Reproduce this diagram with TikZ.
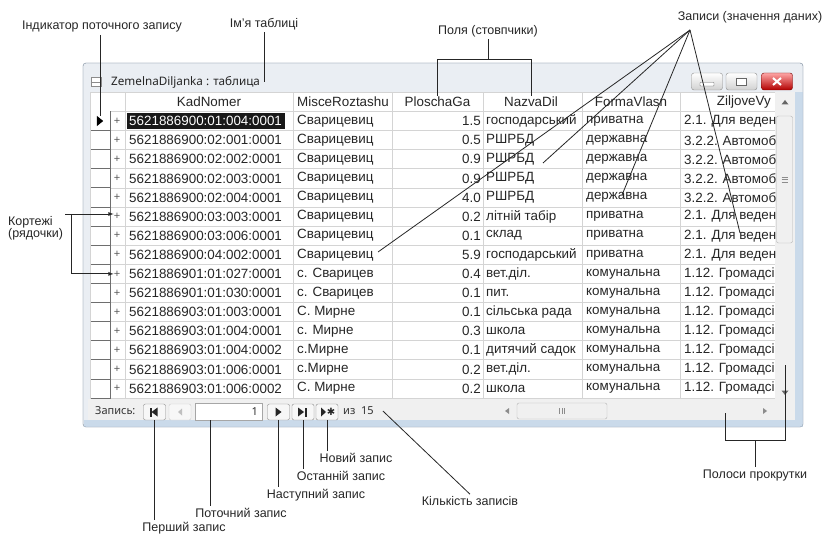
\documentclass[tikz,border=0pt]{standalone}
\usepackage{fontspec}
\setmainfont{Liberation Sans}
\newfontfamily\uifont{Noto Sans}
\newfontfamily\symfont{DejaVu Sans}
\definecolor{gridgray}{HTML}{D4D4D4}
\definecolor{selgray}{HTML}{6E6E6E}
\definecolor{winbg}{HTML}{EAEEF3}
\definecolor{winedge}{HTML}{9DA9B6}
\definecolor{glass}{HTML}{CADAEA}
\definecolor{barbg}{HTML}{F0F0F0}
\definecolor{inkgray}{HTML}{262626}
\tikzset{
	cell/.style={anchor=west, inner sep=1pt, font=\fontsize{13.4}{15}\selectfont, text=inkgray},
	numcell/.style={cell, anchor=east},
	headcell/.style={inner sep=1pt, font=\fontsize{13.4}{15}\selectfont, text=inkgray},
	plus/.style={inner sep=0pt, font=\fontsize{11}{11}\selectfont, text=black!65},
	gridline/.style={draw=gridgray, line width=0.7pt},
	selline/.style={draw=selgray, line width=0.8pt},
	note/.style={inner sep=2pt, font=\fontsize{12.5}{14}\selectfont, text=inkgray},
	noteline/.style={draw=black!85, line width=0.8pt},
	uitext/.style={inner sep=1pt, font=\uifont\fontsize{11}{13}\selectfont, text=black!80},
	navbtn/.style={draw=black!45, fill=black!3, rounded corners=2pt, minimum width=22pt, minimum height=16pt, inner sep=0pt},
	capbtn/.style={draw=black!45, top color=white, bottom color=black!18, rounded corners=2.5pt, minimum width=31pt, minimum height=17pt, inner sep=0pt},
	thumb/.style={draw=black!30, fill=black!6, rounded corners=2pt, inner sep=0pt}
}
\newcommand\datarow[7]{%
	\node[plus] (pl#1) at (117,{102+#1*19.1}) {+};
	\node[cell] (k#1) at (128,{102+#1*19.1}) {#2};
	\node[cell] (m#1) at (296,{102+#1*19.1}) {#3};
	\node[numcell] (p#1) at (482,{102+#1*19.1}) {#4};
	\node[cell] (n#1) at (485,{102+#1*19.1}) {#5};
	\node[cell] (f#1) at (585,{102+#1*19.1}) {#6};
	\node[cell] (z#1) at (683,{102+#1*19.1}) {#7};
}
\begin{document}
\begin{tikzpicture}[x=1pt, y=-1pt]
	\useasboundingbox (0,0) rectangle (827,534);
	\draw[winedge, fill=winbg, rounded corners=3pt] (83,63) rectangle (803,427);
	\fill[glass] (795,92) rectangle (802.5,426.5);
	\fill[glass] (83.5,420) rectangle (802.5,426.5);
	\draw[winedge, rounded corners=3pt] (83,63) rectangle (803,427);
	\node[draw=black!45, fill=white, minimum width=10pt, minimum height=9pt, inner sep=0pt] (ticon) at (96,82) {};
	\draw[black!45] (ticon.west) -- (ticon.east);
	\node[anchor=west, inner sep=1pt, font=\uifont\fontsize{11.7}{14}\selectfont, text=black!85] (title) at (110,82) {ZemelnaDiljanka : таблица};
	\node[capbtn] (minb) at (707,81.5) {};
	\node[capbtn] (maxb) at (741.5,81.5) {};
	\node[capbtn, draw=red!45!black, top color=red!35!white, bottom color=red!70!black] (closeb) at (777,81.5) {};
	\draw[black!60, fill=white, rounded corners=0.5pt] (minb.center) ++(-7,1) rectangle ++(14,3.5);
	\draw[black!60, fill=white] (maxb.center) ++(-5,-3.5) rectangle ++(10,7);
	\draw[white, line width=2pt] (closeb.center) ++(-4,-3.5) -- ++(8,7);
	\draw[white, line width=2pt] (closeb.center) ++(4,-3.5) -- ++(-8,7);
	\fill[white] (90,92.5) rectangle (775,398.5);
	\fill[barbg] (88,398.5) rectangle (795,420);
	\fill[barbg] (775,92.5) rectangle (795,398.5);
	\foreach \r in {0,...,15}
		\draw[gridline] (110,{111.5+\r*19.1}) -- (775,{111.5+\r*19.1});
	\draw[gridline] (90,92.5) -- (775,92.5);
	\foreach \c in {125,293,392,483,582,680}
		\draw[gridline] (\c,92.5) -- (\c,398.5);
	\foreach \r in {1,...,15}
		\draw[selline] (90,{111.5+\r*19.1}) -- (110,{111.5+\r*19.1});
	\draw[gridline] (90,92.5) -- (90,398.5);
	\draw[selline] (110,111.5) -- (110,398.5);
	\node[headcell] (hk) at (209,102) {KadNomer};
	\node[headcell, anchor=west] (hm) at (296,102) {MisceRoztashu};
	\node[headcell] (hp) at (437.5,102) {PloschaGa};
	\node[headcell] (hn) at (531,102) {NazvaDil};
	\node[headcell] (hf) at (631,102) {FormaVlasn};
	\node[headcell, anchor=east] (hz) at (772,102) {ZiljoveVy};
	\fill[black!90] (127,113) rectangle (285,129.5);
	\node[minimum width=6pt, minimum height=10pt, inner sep=0pt] (cur) at (100,121) {};
	\fill (cur.north west) -- (cur.east) -- (cur.south west) -- cycle;
	\begin{scope}
		\clip (90,92.5) rectangle (775,398.5);
		\datarow{1}{{\color{white}5621886900:01:004:0001}}{Сварицевиц}{1.5}{господарський}{приватна}{2.1. Для веден}
		\datarow{2}{5621886900:02:001:0001}{Сварицевиц}{0.5}{РШРБД}{державна}{3.2.2. Автомоб}
		\datarow{3}{5621886900:02:002:0001}{Сварицевиц}{0.9}{РШРБД}{державна}{3.2.2. Автомоб}
		\datarow{4}{5621886900:02:003:0001}{Сварицевиц}{0.9}{РШРБД}{державна}{3.2.2. Автомоб}
		\datarow{5}{5621886900:02:004:0001}{Сварицевиц}{4.0}{РШРБД}{державна}{3.2.2. Автомоб}
		\datarow{6}{5621886900:03:003:0001}{Сварицевиц}{0.2}{літній табір}{приватна}{2.1. Для веден}
		\datarow{7}{5621886900:03:006:0001}{Сварицевиц}{0.1}{склад}{приватна}{2.1. Для веден}
		\datarow{8}{5621886900:04:002:0001}{Сварицевиц}{5.9}{господарський}{приватна}{2.1. Для веден}
		\datarow{9}{5621886901:01:027:0001}{с. Сварицев}{0.4}{вет.діл.}{комунальна}{1.12. Громадсі}
		\datarow{10}{5621886901:01:030:0001}{с. Сварицев}{0.1}{пит.}{комунальна}{1.12. Громадсі}
		\datarow{11}{5621886903:01:003:0001}{С. Мирне}{0.1}{сільська рада}{комунальна}{1.12. Громадсі}
		\datarow{12}{5621886903:01:004:0001}{с. Мирне}{0.3}{школа}{комунальна}{1.12. Громадсі}
		\datarow{13}{5621886903:01:004:0002}{с.Мирне}{0.1}{дитячий садок}{комунальна}{1.12. Громадсі}
		\datarow{14}{5621886903:01:006:0001}{с.Мирне}{0.2}{вет.діл.}{комунальна}{1.12. Громадсі}
		\datarow{15}{5621886903:01:006:0002}{С. Мирне}{0.2}{школа}{комунальна}{1.12. Громадсі}
	\end{scope}
	\fill[black!60] (785,100) -- (788.5,104.5) -- (781.5,104.5) -- cycle;
	\node[thumb, minimum width=16pt, minimum height=127pt] (vthumb) at (784.5,179.5) {};
	\foreach \g in {-2.5,0,2.5}
		\draw[black!45] (vthumb.center) ++(-3,\g) -- ++(6,0);
	\fill[black!60] (785,395) -- (788.5,390.5) -- (781.5,390.5) -- cycle;
	\node[thumb, minimum width=90pt, minimum height=16pt] (hthumb) at (562,411) {};
	\foreach \g in {-2.5,0,2.5}
		\draw[black!45] (hthumb.center) ++(\g,-3) -- ++(0,6);
	\fill[black!45] (505,411) -- (509,408) -- (509,414) -- cycle;
	\fill[black!45] (767,411) -- (763,408) -- (763,414) -- cycle;
	\node[uitext, anchor=west] (navlab) at (94,411) {Запись:};
	\node[navbtn] (first) at (154.5,412) {};
	\node[navbtn, draw=black!20] (prev) at (180,412) {};
	\node[draw=black!35, fill=white, minimum width=67pt, minimum height=17pt, inner sep=0pt] (curbox) at (228.5,411.5) {};
	\node[uitext, anchor=east] (curnum) at ([xshift=-3pt]curbox.east) {1};
	\node[navbtn] (next) at (278.5,412) {};
	\node[navbtn] (last) at (303,412) {};
	\node[navbtn] (new) at (327,412) {};
	\node[uitext, anchor=west] (ofn) at (342,411) {из\ \ 15};
	\fill[black!85] ([xshift=-5pt]first.center) ++(0,-4.5) rectangle ++(2,9);
	\fill[black!85] ([xshift=-3pt]first.center) -- ++(6,-4.5) -- ++(0,9) -- cycle;
	\fill[black!25] ([xshift=-2pt]prev.center) -- ++(4,-3.5) -- ++(0,7) -- cycle;
	\fill[black!85] ([xshift=3pt]next.center) -- ++(-6,-4.5) -- ++(0,9) -- cycle;
	\fill[black!85] ([xshift=1pt]last.center) -- ++(-6,-4.5) -- ++(0,9) -- cycle;
	\fill[black!85] ([xshift=2pt]last.center) ++(0,-4.5) rectangle ++(2,9);
	\fill[black!85] ([xshift=-1pt]new.center) -- ++(-5,-4.5) -- ++(0,9) -- cycle;
	\node[inner sep=0pt, font=\symfont\fontsize{10}{10}\selectfont, text=black!85] (star) at ([xshift=4pt]new.center) {✱};
	\node[note] (ind) at (102,27) {Індикатор поточного запису};
	\node[note] (tname) at (264,24) {Ім’я таблиці};
	\node[note] (fields) at (488,31) {Поля (стовпчики)};
	\node[note] (records) at (750,17) {Записи (значення даних)};
	\node[note, align=left, anchor=north west, font=\fontsize{12.5}{12}\selectfont] (tuples) at (6,214) {Кортежі\\(рядочки)};
	\node[note] (firstlab) at (184,528) {Перший запис};
	\node[note] (curlab) at (241,513) {Поточний запис};
	\node[note] (nextlab) at (316,495) {Наступний запис};
	\node[note] (lastlab) at (341,476) {Останній запис};
	\node[note] (newlab) at (356,458) {Новий запис};
	\node[note] (countlab) at (470,501) {Кількість записів};
	\node[note] (scrolllab) at (755,475) {Полоси прокрутки};
	\draw[noteline] (ind.south -| cur.north) -- (cur.north);
	\draw[noteline] (tname.south) -- (tname.south |- title.east);
	\draw[noteline] (fields.south) -- ++(0,20) coordinate (fb);
	\draw[noteline] (hp.north) -- (hp.north |- fb) -- (hn.north |- fb) -- (hn.north);
	\coordinate (rec) at (690,30);
	\coordinate (ra) at (378,252);
	\coordinate (rb) at (543,163);
	\coordinate (rc) at (622,195);
	\coordinate (rd) at (740,233);
	\draw[noteline] (rec) -- (ra);
	\draw[noteline] (rec) -- (rb);
	\draw[noteline] (rec) -- (rc);
	\draw[noteline] (rec) -- (rd);
	\coordinate (tj) at (71,214);
	\draw[noteline, -latex] (tuples.north east) -- (tuples.north east -| pl6.west);
	\draw[noteline, -latex] (tj) |- (pl9.west);
	\draw[noteline] (first.south) -- (first.south |- firstlab.north);
	\coordinate (curpin) at ([xshift=16pt]curbox.south west);
	\draw[noteline] (curpin) -- (curpin |- curlab.north);
	\draw[noteline] (next.south) -- (next.south |- nextlab.north);
	\draw[noteline] (last.south) -- (last.south |- lastlab.north);
	\draw[noteline] (new.south) -- (new.south |- newlab.north);
	\draw[noteline] ([xshift=8pt]ofn.east) -- (countlab.north);
	\draw[noteline] (scrolllab.north) -- ++(0,-27) coordinate (sb);
	\coordinate (hs) at (725,413);
	\coordinate (vs) at (785,365);
	\draw[noteline] (hs) -- (hs |- sb) -- (vs |- sb) -- (vs);
\end{tikzpicture}
\end{document}
